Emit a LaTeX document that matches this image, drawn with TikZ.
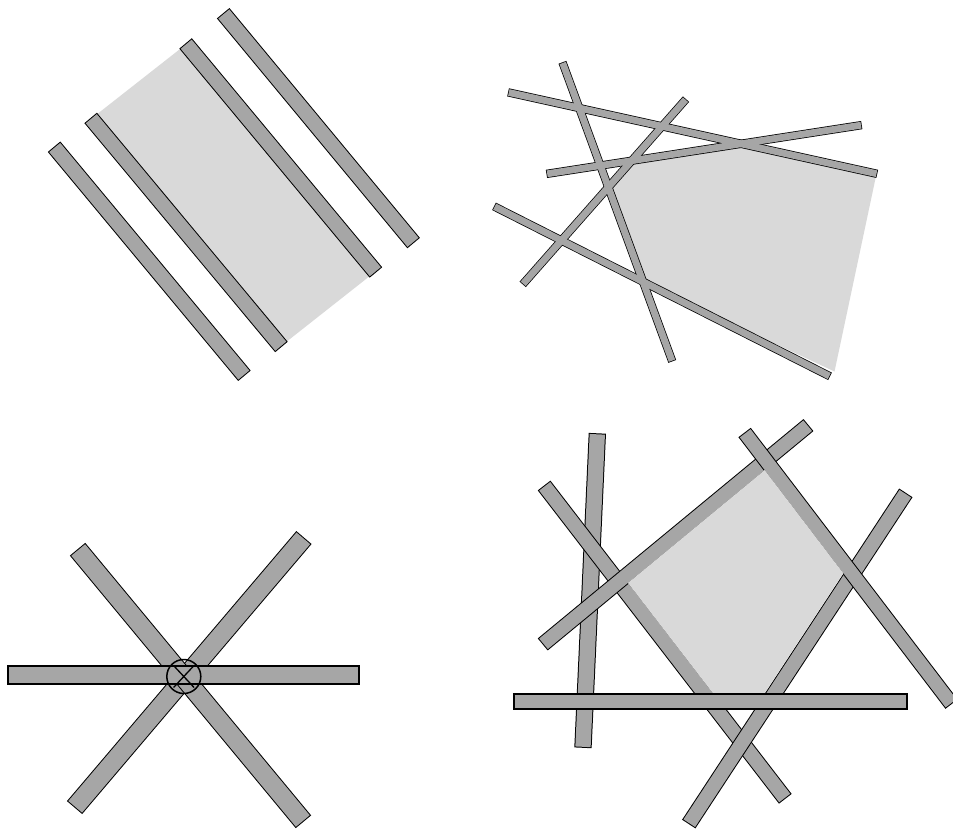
\documentclass[tikz,border=0pt]{standalone}
\usetikzlibrary{calc,intersections}
\definecolor{barg}{RGB}{166,166,166}
\definecolor{regiong}{RGB}{217,217,217}
% #1 fill width, #2 border width, #3 #4 end points
\newcommand\stickout[4]{\draw[black,line width=#1pt+2*#2pt,shorten <=-#2pt,shorten >=-#2pt] (#3)--(#4);}
\newcommand\stickin[4]{\draw[barg,line width=#1pt] (#3)--(#4);}
\newcommand\stick[4]{\stickout{#1}{#2}{#3}{#4}\stickin{#1}{#2}{#3}{#4}}
\begin{document}
\begin{tikzpicture}[x=1pt,y=-1pt]
\useasboundingbox (0,0) rectangle (953,829);
\fill[white] (0,0) rectangle (953,829);

% ---------- panel 1 : parallel bars ----------
\coordinate (A1) at (54.7,147.5);  \coordinate (A2) at (243.8,375);
\coordinate (B1) at (91.3,118.7);  \coordinate (B2) at (280.8,346.2);
\coordinate (C1) at (186.2,44.2);  \coordinate (C2) at (375.3,271.7);
\coordinate (D1) at (223.8,14);    \coordinate (D2) at (413,242.3);
\fill[regiong] (B1)--(C1)--(C2)--(B2)--cycle;
\stick{14.3}{1}{A1}{A2}
\stick{14.3}{1}{B1}{B2}
\stick{14.3}{1}{C1}{C2}
\stick{14.3}{1}{D1}{D2}

% ---------- panel 2 : thin bars, merged ----------
\coordinate (Q1a) at (508.8,92.5);  \coordinate (Q1b) at (876.5,173.7);
\coordinate (Q2a) at (562.7,63);    \coordinate (Q2b) at (672,360.7);
\coordinate (Q3a) at (685.5,99.7);  \coordinate (Q3b) at (523.2,283.8);
\coordinate (Q4a) at (547.2,173.8); \coordinate (Q4b) at (861,125.2);
\coordinate (Q5a) at (494.7,206.7); \coordinate (Q5b) at (829.3,376);
\coordinate (Q5r) at (834.5,371.5);
\path[name path=q1] (Q1a)--(Q1b);
\path[name path=q2] (Q2a)--(Q2b);
\path[name path=q3] (Q3a)--(Q3b);
\path[name path=q4] (Q4a)--(Q4b);
\path[name path=q5] (Q5a)--(Q5b);
\path[name intersections={of=q5 and q2,by={x52}}];
\path[name intersections={of=q2 and q3,by={x23}}];
\path[name intersections={of=q3 and q4,by={x34}}];
\path[name intersections={of=q4 and q1,by={x41}}];
\fill[regiong] (x52)--(x23)--(x34)--(x41)--(Q1b)--(Q5r)--cycle;
\stickout{6.8}{0.75}{Q1a}{Q1b}
\stickout{6.8}{0.75}{Q2a}{Q2b}
\stickout{6.8}{0.75}{Q3a}{Q3b}
\stickout{6.8}{0.75}{Q4a}{Q4b}
\stickout{6.8}{0.75}{Q5a}{Q5b}
\stickin{6.8}{0.75}{Q1a}{Q1b}
\stickin{6.8}{0.75}{Q2a}{Q2b}
\stickin{6.8}{0.75}{Q3a}{Q3b}
\stickin{6.8}{0.75}{Q4a}{Q4b}
\stickin{6.8}{0.75}{Q5a}{Q5b}

% ---------- panel 3 : star through one point ----------
\coordinate (S1a) at (303.3,538.3); \coordinate (S1b) at (75.2,806.8);
\coordinate (S2a) at (78.2,550);    \coordinate (S2b) at (302.8,821);
\coordinate (S3a) at (9.3,674.85);  \coordinate (S3b) at (358,674.85);
\coordinate (O) at (183.8,676.5);
\stick{18}{1}{S1a}{S1b}
\stick{18}{1}{S2a}{S2b}
\stick{16.3}{2}{S3a}{S3b}
\draw[line width=1.5pt] (O) circle (17pt);
\draw[line width=1.3pt] (O) ++(47:15) -- ++(227:30);
\draw[line width=1.3pt] (O) ++(133:15) -- ++(313:30);

% ---------- panel 4 : pentagon ----------
\coordinate (Va) at (597.3,434.3); \coordinate (Vb) at (583,746.8);
\coordinate (Pa1) at (544.7,486.3); \coordinate (Pa2) at (784.7,798);
\coordinate (Pb1) at (543.5,643.8); \coordinate (Pb2) at (807.7,425.7);
\coordinate (Pc1) at (745.2,433.3); \coordinate (Pc2) at (951,703.3);
\coordinate (Pd1) at (905.3,493.7); \coordinate (Pd2) at (689.3,823.2);
\coordinate (H1) at (514.5,701.65); \coordinate (H2) at (906,701.65);
\stick{15.3}{1}{Va}{Vb}
\stick{14}{1}{Pa1}{Pa2}
\stick{13.6}{1}{Pb1}{Pb2}
\stick{13.9}{1}{Pd1}{Pd2}
\stick{13.5}{1}{Pc1}{Pc2}
\path[name path=ra] ($(Pa1)!7pt!90:(Pa2)$) -- ($(Pa2)!7pt!-90:(Pa1)$);
\path[name path=rb] ($(Pb1)!6.8pt!-90:(Pb2)$) -- ($(Pb2)!6.8pt!90:(Pb1)$);
\path[name path=rc] ($(Pc1)!6.75pt!-90:(Pc2)$) -- ($(Pc2)!6.75pt!90:(Pc1)$);
\path[name path=rd] ($(Pd1)!8.3pt!-90:(Pd2)$) -- ($(Pd2)!8.3pt!90:(Pd1)$);
\path[name path=rh] (500,697) -- (920,697);
\path[name intersections={of=ra and rb,by={v1}}];
\path[name intersections={of=rb and rc,by={v2}}];
\path[name intersections={of=rc and rd,by={v3}}];
\path[name intersections={of=rd and rh,by={v4}}];
\path[name intersections={of=rh and ra,by={v5}}];
\fill[regiong] (v1)--(v2)--(v3)--(v4)--(v5)--cycle;
\stick{13.3}{1.7}{H1}{H2}
\end{tikzpicture}
\end{document}
